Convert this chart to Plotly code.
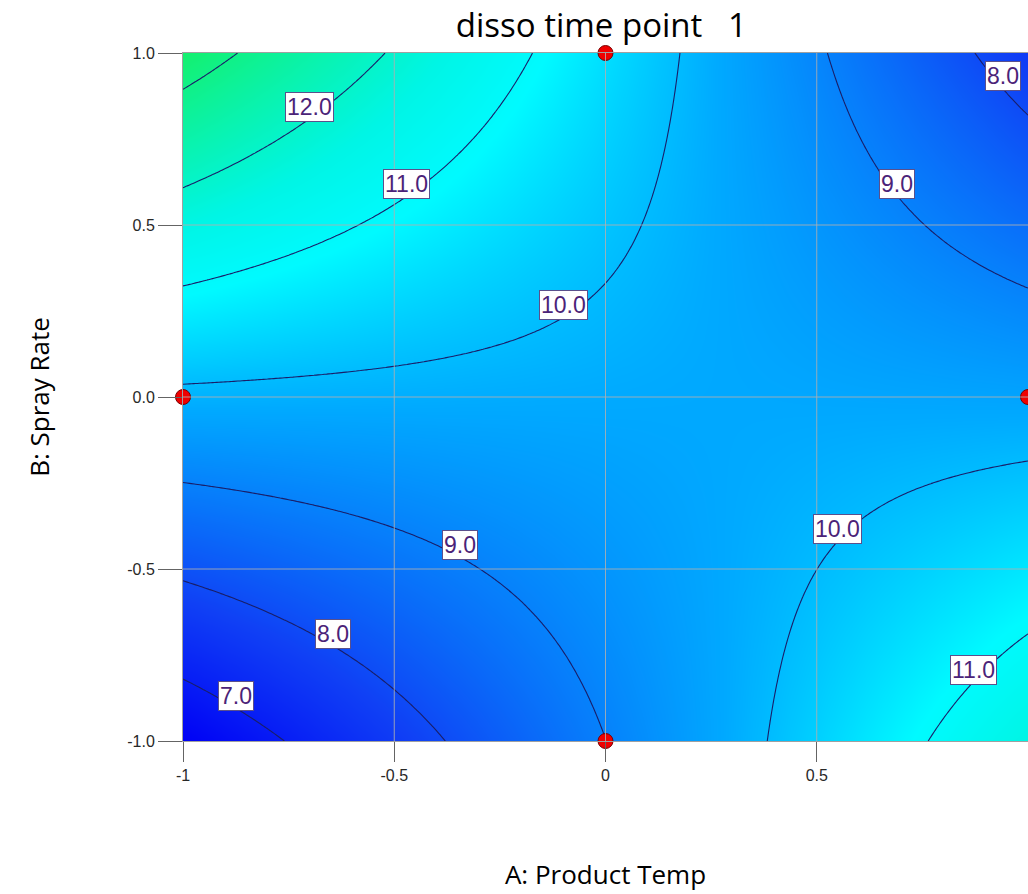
import numpy as np
import plotly.graph_objects as go

# Response-surface model (coded factors A, B)
coef_intercept = 9.75
coef_A = -0.12
coef_B = 0.755
coef_AB = -2.745

contour_levels = [7, 8, 9, 10, 11, 12, 13]

# contour labels: level and A position where each label sits
label_levels = [12.0, 11.0, 10.0, 9.0, 8.0, 9.0, 8.0, 7.0, 10.0, 11.0]
label_A = [-0.70, -0.47, -0.10, 0.69, 0.94, -0.345, -0.645, -0.875, 0.55, 0.87]

# design points
design_A = [0, -1, 0, 1]
design_B = [1, 0, -1, 0]

tick_vals = [-1, -0.5, 0, 0.5, 1]
x_tick_text = ["-1", "-0.5", "0", "0.5", "1"]
y_tick_text = ["-1.0", "-0.5", "0.0", "0.5", "1.0"]

title_text = "disso time point&nbsp;&nbsp; 1"
x_title = "A: Product Temp"
y_title = "B: Spray Rate"

A = np.linspace(-1, 1, 201)
B = np.linspace(-1, 1, 201)
AA, BB = np.meshgrid(A, B)
Z = coef_intercept + coef_A * AA + coef_B * BB + coef_AB * AA * BB

zmin, zmax = 6.37, 13.37
colorscale = [
    [0.0, "rgb(0,0,245)"],
    [0.204, "rgb(16,64,245)"],
    [0.483, "rgb(0,170,255)"],
    [0.647, "rgb(0,250,255)"],
    [0.747, "rgb(0,245,229)"],
    [1.0, "rgb(20,240,110)"],
]

fig = go.Figure()
fig.add_trace(go.Contour(
    x=A, y=B, z=Z,
    zauto=False, zmin=zmin, zmax=zmax,
    colorscale=colorscale,
    showscale=False,
    contours=dict(start=contour_levels[0], end=contour_levels[-1], size=1,
                  coloring="heatmap", showlabels=False),
    line=dict(color="rgb(25,30,105)", width=1.1),
    hoverinfo="skip",
))

fig.add_trace(go.Scatter(
    x=design_A, y=design_B, mode="markers",
    marker=dict(color="rgb(240,0,0)", size=15, line=dict(color="rgb(120,0,0)", width=1)),
    cliponaxis=False, hoverinfo="skip", showlegend=False,
))

# grid lines above the fill
shapes = []
for v in tick_vals[1:-1]:
    shapes.append(dict(type="line", xref="x", yref="paper", x0=v, x1=v, y0=0, y1=1,
                       line=dict(color="rgba(175,175,175,0.85)", width=1), layer="above"))
    shapes.append(dict(type="line", xref="paper", yref="y", x0=0, x1=1, y0=v, y1=v,
                       line=dict(color="rgba(175,175,175,0.85)", width=1), layer="above"))

annotations = []
for lvl, a in zip(label_levels, label_A):
    b = (lvl - coef_intercept - coef_A * a) / (coef_B + coef_AB * a)
    annotations.append(dict(
        x=a, y=b, xref="x", yref="y", text=f"{lvl:.1f}", showarrow=False, yshift=12,
        font=dict(family="Arial, Liberation Sans", size=23, color="rgb(75,35,120)"),
        bgcolor="white", bordercolor="rgb(90,80,140)", borderwidth=1, borderpad=1,
    ))

fig.update_layout(
    width=1028, height=894,
    margin=dict(l=183, r=0, t=53, b=153),
    paper_bgcolor="white", plot_bgcolor="white",
    showlegend=False,
    title=dict(text=title_text, x=0.585, xanchor="center", y=0.972, yanchor="middle",
               font=dict(family="Open Sans", size=33, color="black")),
    shapes=shapes,
    annotations=annotations,
    xaxis=dict(range=[-1, 1], tickvals=tick_vals, ticktext=x_tick_text,
               ticks="outside", ticklen=20, tickcolor="rgb(100,100,100)",
               tickfont=dict(family="Arial, Liberation Sans", size=16, color="rgb(40,40,40)"),
               showgrid=False, zeroline=False, showline=True, linecolor="rgb(160,160,160)",
               mirror=True,
               title=dict(text=x_title, standoff=82,
                          font=dict(family="Open Sans", size=26, color="black"))),
    yaxis=dict(range=[-1, 1], tickvals=tick_vals, ticktext=y_tick_text,
               ticks="outside", ticklen=24, tickcolor="rgb(100,100,100)",
               tickfont=dict(family="Arial, Liberation Sans", size=16, color="rgb(40,40,40)"),
               showgrid=False, zeroline=False, showline=True, linecolor="rgb(160,160,160)",
               mirror=True,
               title=dict(text=y_title, standoff=70,
                          font=dict(family="Open Sans", size=26, color="black"))),
)

fig.write_html("out.html", config={"displayModeBar": False},
               post_script="document.body.style.margin='0';document.body.style.overflow='hidden';")
